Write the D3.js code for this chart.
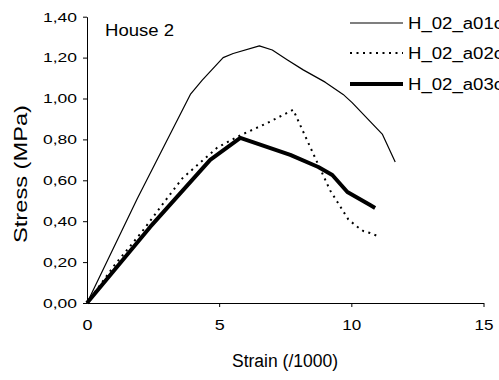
<!DOCTYPE html>
<html lang="en">
  <head>
    <meta charset="UTF-8" />
    <title>House 2</title>
    <style>
      body { margin: 0; background: #fff; }
      text { font-family: "Liberation Sans", Arial, sans-serif; fill: #000; }
    </style>
  </head>
  <body>
    <svg id="container" width="499" height="380"></svg>
  </body>
  <script src="https://cdn.jsdelivr.net/npm/d3@7"></script>
  <script>
    // series data: [strain (/1000), stress (MPa)]
    let a01c = [[0, 0], [1.9, 0.51], [3.91, 1.02], [4.36, 1.09], [5.15, 1.2], [5.53, 1.22],
      [6.52, 1.257], [7.01, 1.237], [7.57, 1.19], [8.18, 1.14], [9.01, 1.08], [9.69, 1.02],
      [10.03, 0.98], [11.17, 0.826], [11.66, 0.69]];
    let a02c = [[0, 0], [1.07, 0.19], [2.09, 0.35], [2.96, 0.5], [3.61, 0.61], [4.93, 0.76],
      [5.8, 0.82], [6.82, 0.88], [7.8, 0.945], [8.56, 0.73], [9.2, 0.55], [9.88, 0.41],
      [10.18, 0.377], [10.45, 0.352], [10.71, 0.342], [11.09, 0.323]];
    let a03c = [[0, 0], [2.39, 0.372], [4.66, 0.7], [5.8, 0.807], [7.69, 0.724], [8.75, 0.665],
      [9.28, 0.626], [9.85, 0.543], [10.71, 0.479], [10.9, 0.465]];

    let seriesNames = ["H_02_a01c", "H_02_a02c", "H_02_a03c"];
    let xTicks = [0, 5, 10, 15];
    let yTicks = [0, 0.2, 0.4, 0.6, 0.8, 1.0, 1.2, 1.4];

    let svg = d3.select("#container");
    let x = d3.scaleLinear().domain([0, 15]).range([87, 483.5]);
    let y = d3.scaleLinear().domain([0, 1.4]).range([303, 16.7]);

    // axes
    let yAxis = svg.append("g").attr("transform", "translate(87,0)")
      .call(d3.axisLeft(y).tickValues(yTicks).tickSize(4).tickSizeOuter(0)
        .tickFormat(d => d3.format(".2f")(d).replace(".", ",")));
    let xAxis = svg.append("g").attr("transform", "translate(0,303)")
      .call(d3.axisBottom(x).tickValues(xTicks).tickSize(4).tickSizeOuter(0));
    svg.selectAll(".domain, .tick line").attr("stroke", "#000").attr("stroke-width", 1);
    xAxis.select(".tick line").remove();

    yAxis.selectAll("text").attr("x", -10).attr("font-size", 13.5)
      .attr("textLength", 34).attr("lengthAdjust", "spacingAndGlyphs");
    xAxis.selectAll("text").attr("y", 16).attr("dy", "0.75em").attr("font-size", 14.5)
      .attr("textLength", d => d < 10 ? 10 : 19).attr("lengthAdjust", "spacingAndGlyphs");
    svg.selectAll(".tick text").attr("font-family", "Liberation Sans, Arial, sans-serif");

    // lines
    let line = d3.line().x(d => x(d[0])).y(d => y(d[1]));
    let styles = [
      { width: 1.2, dash: null },
      { width: 2, dash: "2,4.5" },
      { width: 4, dash: null }
    ];
    [a01c, a02c, a03c].forEach((data, i) => {
      svg.append("path").datum(data).attr("d", line)
        .attr("fill", "none").attr("stroke", "#000")
        .attr("stroke-width", styles[i].width)
        .attr("stroke-dasharray", styles[i].dash)
        .attr("stroke-linejoin", "round");
    });

    // legend
    let legendY = [23, 53, 84];
    seriesNames.forEach((name, i) => {
      svg.append("line").attr("x1", 350).attr("x2", 403)
        .attr("y1", legendY[i]).attr("y2", legendY[i])
        .attr("stroke", "#000").attr("stroke-width", styles[i].width)
        .attr("stroke-dasharray", styles[i].dash);
      svg.append("text").attr("x", 408).attr("y", legendY[i] + 5.5)
        .attr("font-size", 16).attr("textLength", 95).attr("lengthAdjust", "spacingAndGlyphs")
        .text(name);
    });

    // titles
    svg.append("text").attr("x", 105).attr("y", 36).attr("font-size", 16)
      .attr("textLength", 69).attr("lengthAdjust", "spacingAndGlyphs").text("House 2");
    svg.append("text").attr("x", 232).attr("y", 367).attr("font-size", 18)
      .attr("textLength", 106).attr("lengthAdjust", "spacingAndGlyphs").text("Strain (/1000)");
    svg.append("text").attr("transform", "translate(27,243) rotate(-90)")
      .attr("font-size", 19).attr("textLength", 138).attr("lengthAdjust", "spacingAndGlyphs")
      .text("Stress (MPa)");
  </script>
</html>
